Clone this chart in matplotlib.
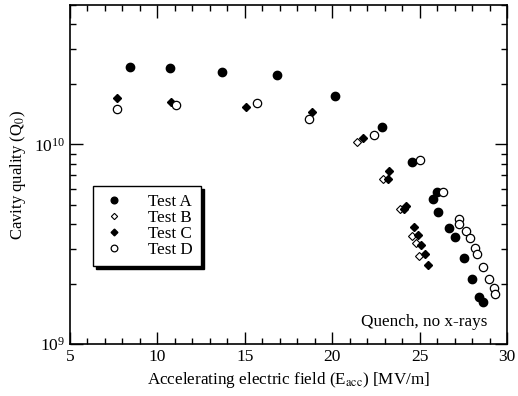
import matplotlib
matplotlib.use("Agg")
import matplotlib.pyplot as plt
from matplotlib.ticker import LogLocator, LogFormatterMathtext, MultipleLocator, NullFormatter

plt.rcParams['font.family'] = ['Liberation Serif', 'DejaVu Serif']
plt.rcParams['mathtext.fontset'] = 'stix'

# Test A (filled circles)
a_x = [8.43, 10.72, 13.68, 16.82, 20.16, 22.87, 24.55, 25.98, 25.77, 26.07,
       26.66, 27.03, 27.56, 28.02, 28.42, 28.61]
a_q = [2.45e10, 2.43e10, 2.30e10, 2.23e10, 1.75e10, 1.22e10, 8.14e9, 5.79e9, 5.32e9, 4.57e9,
       3.80e9, 3.42e9, 2.70e9, 2.11e9, 1.73e9, 1.63e9]

# Test B (open diamonds)
b_x = [21.40, 22.93, 23.88, 24.55, 24.79, 24.98]
b_q = [1.03e10, 6.71e9, 4.73e9, 3.47e9, 3.19e9, 2.77e9]

# Test C (filled diamonds)
c_x = [7.71, 10.76, 15.09, 18.86, 21.78, 23.23, 23.21, 24.22, 24.11, 24.68,
       24.93, 25.06, 25.31, 25.50]
c_q = [1.70e10, 1.64e10, 1.54e10, 1.45e10, 1.08e10, 7.33e9, 6.71e9, 4.92e9, 4.77e9, 3.84e9,
       3.52e9, 3.15e9, 2.81e9, 2.50e9]

# Test D (open circles)
d_x = [7.71, 11.06, 15.72, 18.69, 22.39, 25.02, 26.32, 27.24, 27.24, 27.65,
       27.86, 28.19, 28.30, 28.63, 28.97, 29.26, 29.33]
d_q = [1.50e10, 1.57e10, 1.62e10, 1.34e10, 1.11e10, 8.33e9, 5.81e9, 4.21e9, 3.99e9, 3.69e9,
       3.40e9, 3.03e9, 2.81e9, 2.44e9, 2.11e9, 1.90e9, 1.79e9]

fig = plt.figure(figsize=(5.18, 3.96), dpi=100)
ax = fig.add_axes([0.1351, 0.1313, 0.8437, 0.8561])

ax.plot(a_x, a_q, 'o', color='black', markersize=6, label='Test A', linestyle='none')
ax.plot(b_x, b_q, 'D', markerfacecolor='white', markeredgecolor='black', markersize=4,
        markeredgewidth=0.8, label='Test B', linestyle='none')
ax.plot(c_x, c_q, 'D', color='black', markersize=4.3, label='Test C', linestyle='none')
ax.plot(d_x, d_q, 'o', markerfacecolor='white', markeredgecolor='black', markersize=6,
        markeredgewidth=0.9, label='Test D', linestyle='none')

ax.set_yscale('log')
ax.set_xlim(5, 30)
ax.set_ylim(1e9, 5e10)
ax.xaxis.set_major_locator(MultipleLocator(5))
ax.xaxis.set_minor_locator(MultipleLocator(1))
ax.yaxis.set_major_locator(LogLocator(base=10))
ax.yaxis.set_minor_locator(LogLocator(base=10, subs=range(2, 10)))
ax.yaxis.set_major_formatter(LogFormatterMathtext())
ax.yaxis.set_minor_formatter(NullFormatter())

ax.tick_params(which='both', direction='in', top=True, right=True, labelsize=12.5, width=1)
ax.tick_params(which='major', length=9)
ax.tick_params(which='minor', length=4)
for s in ax.spines.values():
    s.set_linewidth(1.2)

ax.set_xlabel(r'Accelerating electric field (E$_{\mathrm{acc}}$) [MV/m]', fontsize=12.3)
ax.set_ylabel(r'Cavity quality (Q$_0$)', fontsize=12)

ax.text(0.955, 0.04, 'Quench, no x-rays', transform=ax.transAxes, ha='right',
        va='bottom', fontsize=12.3)

leg = ax.legend(loc='upper left', bbox_to_anchor=(0.052, 0.465), fontsize=12.3,
                frameon=True, fancybox=False, edgecolor='black', markerscale=0.8,
                handlelength=1.6, handletextpad=1.2, borderpad=0.45, labelspacing=0.0,
                borderaxespad=0,
                shadow={'color': 'black', 'alpha': 1, 'ox': 2.2, 'oy': -2.2})
leg.get_frame().set_linewidth(1.0)

fig.savefig('out.png', dpi=100)
